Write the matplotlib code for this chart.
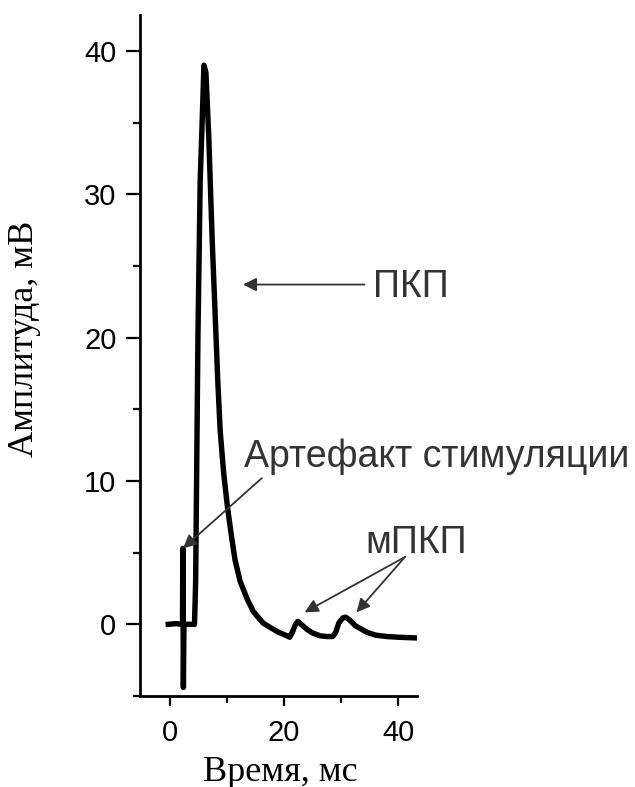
import matplotlib
matplotlib.use("Agg")
import matplotlib.pyplot as plt
from matplotlib.ticker import MultipleLocator

# recorded trace: time (ms) and amplitude (mV)
t_ms = [-0.3, 1.0, 2.2, 2.25, 2.35, 2.45, 3.5, 4.3,
        4.5, 4.9, 5.3, 5.6, 5.95, 6.3, 6.8, 7.4, 8.0, 8.4, 8.8, 9.4, 10.1,
        10.8, 11.4, 12.3, 13.5, 14.6, 16.3, 17.5, 19.0, 20.5, 21.0,
        21.5, 22.0, 22.4, 23.0, 24.0, 25.0, 26.3, 27.5, 28.5,
        29.0, 29.6, 30.3, 30.8, 31.5, 32.5, 34.5, 36.0, 38.0, 40.0, 43.3]
amp_mv = [0.0, 0.05, 0.0, 5.3, -4.4, 0.0, 0.0, 0.0,
          3.0, 20.0, 31.0, 34.5, 39.0, 38.5, 34.0, 26.8, 20.8, 16.8, 13.5, 10.6, 8.1,
          6.1, 4.5, 3.0, 1.8, 0.9, 0.1, -0.2, -0.55, -0.8, -0.9,
          -0.5, 0.0, 0.2, 0.0, -0.35, -0.6, -0.8, -0.85, -0.85,
          -0.6, 0.1, 0.45, 0.5, 0.3, -0.1, -0.55, -0.75, -0.85, -0.9, -0.95]

x_major = [0, 20, 40]
y_major = [0, 10, 20, 30, 40]

sans = "Liberation Sans"
serif = "Liberation Serif"
grey = "#333333"

fig = plt.figure(figsize=(6.35, 7.87), dpi=100)
ax = fig.add_axes([0.2205, 0.1156, 0.4362, 0.8653])

ax.plot(t_ms, amp_mv, color="black", lw=3.9, solid_joinstyle="round")

ax.set_xlim(-5.25, 43.3)
ax.set_ylim(-5.0, 42.5)
ax.set_xticks(x_major)
ax.set_yticks(y_major)
ax.xaxis.set_minor_locator(MultipleLocator(10))
ax.yaxis.set_minor_locator(MultipleLocator(5))

for side in ("top", "right"):
    ax.spines[side].set_visible(False)
for side in ("left", "bottom"):
    ax.spines[side].set_linewidth(2.0)

ax.tick_params(axis="x", which="major", direction="out", length=7.2, width=1.6, pad=9)
ax.tick_params(axis="x", which="minor", direction="out", length=5, width=1.6)
ax.tick_params(axis="y", which="major", direction="out", length=10, width=1.6, pad=7)
ax.tick_params(axis="y", which="minor", direction="out", length=5, width=1.6)
for lab in ax.get_xticklabels() + ax.get_yticklabels():
    lab.set_fontfamily(sans)
    lab.set_fontsize(21)

fig.text(0.441, 0.019, "Время, мс", family=serif, fontsize=26,
         ha="center", va="center")
fig.text(0.039, 0.570, "Амплитуда, мВ", family=serif, fontsize=26,
         rotation=90, ha="center", va="center")

arrow = dict(arrowstyle="-|>", color=grey, lw=1.3, mutation_scale=20,
             shrinkA=0, shrinkB=0)

# main response
ax.annotate("", xy=(12.8, 23.7), xytext=(34.1, 23.7), arrowprops=arrow)
ax.text(35.5, 23.5, "ПКП", family=sans, fontsize=27, color=grey,
        ha="left", va="center")

# stimulus artefact
ax.annotate("", xy=(2.3, 5.3), xytext=(16.1, 10.2), arrowprops=arrow)
ax.text(12.9, 11.0, "Артефакт стимуляции", family=sans, fontsize=27,
        color=grey, ha="left", va="baseline")

# miniature responses
ax.annotate("", xy=(23.6, 0.84), xytext=(41.2, 4.7), arrowprops=arrow)
ax.annotate("", xy=(32.7, 0.84), xytext=(41.2, 4.7), arrowprops=arrow)
ax.text(34.3, 5.0, "мПКП", family=sans, fontsize=27, color=grey,
        ha="left", va="baseline")

fig.savefig("out.png", dpi=100)
